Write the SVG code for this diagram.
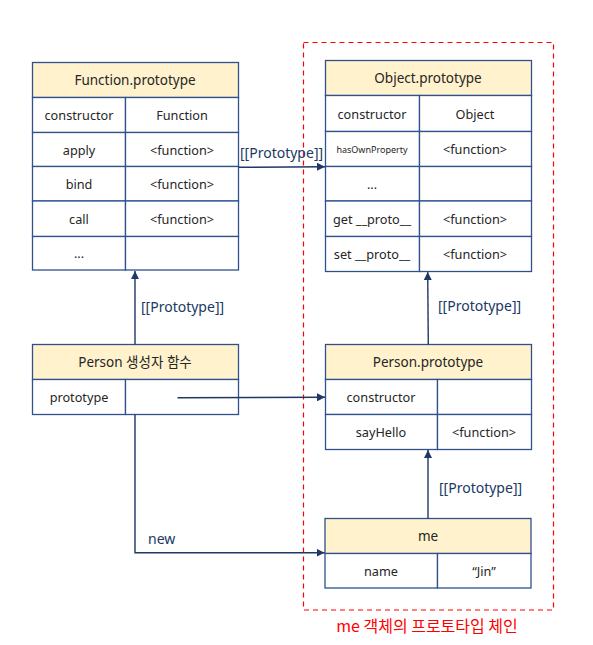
<svg xmlns="http://www.w3.org/2000/svg" width="593" height="645" viewBox="0 0 593 645">
<defs>
<marker id="arr" viewBox="0 0 10 10" refX="10" refY="5" markerWidth="8" markerHeight="8" markerUnits="userSpaceOnUse" orient="auto">
<path d="M0,0 L10,5 L0,10 z" fill="#1F3864"/>
</marker>
<style>
.cell{fill:#FFFFFF;stroke:#2F528F;stroke-width:1.3}
.head{fill:#FFF2CC;stroke:#2F528F;stroke-width:1.3}
.t{font-family:"Noto Sans","Noto Sans CJK KR",sans-serif;font-size:12.7px;font-weight:normal;fill:#262626;text-anchor:middle;dominant-baseline:central}
.th{font-size:13.5px}
.small{font-size:9px}
.conn{fill:none;stroke:#1F3864;stroke-width:1.4;marker-end:url(#arr)}
.lbl{font-family:"Noto Sans","Noto Sans CJK KR",sans-serif;font-size:14px;fill:#203864;dominant-baseline:central}
.frame{fill:none;stroke:#FF0000;stroke-width:1.2;stroke-dasharray:5,4}
.cap{font-family:"Noto Sans CJK KR","Noto Sans",sans-serif;font-size:16px;fill:#FF0000;text-anchor:middle;dominant-baseline:central}
</style>
</defs>
<rect class="frame" x="303.5" y="42.5" width="250" height="567.5"/>
<g id="function-prototype">
<rect class="head" x="32.5" y="62.5" width="206" height="35"/>
<rect class="cell" x="32.5" y="97.5" width="93" height="35"/>
<rect class="cell" x="125.5" y="97.5" width="113" height="35"/>
<rect class="cell" x="32.5" y="132.5" width="93" height="34"/>
<rect class="cell" x="125.5" y="132.5" width="113" height="34"/>
<rect class="cell" x="32.5" y="166.5" width="93" height="34.5"/>
<rect class="cell" x="125.5" y="166.5" width="113" height="34.5"/>
<rect class="cell" x="32.5" y="201" width="93" height="35.5"/>
<rect class="cell" x="125.5" y="201" width="113" height="35.5"/>
<rect class="cell" x="32.5" y="236.5" width="93" height="33.5"/>
<rect class="cell" x="125.5" y="236.5" width="113" height="33.5"/>
<text class="t th" x="135" y="80">Function.prototype</text>
<text class="t" x="79" y="115">constructor</text>
<text class="t" x="182" y="115">Function</text>
<text class="t" x="79" y="149.5">apply</text>
<text class="t" x="182" y="149.5">&lt;function&gt;</text>
<text class="t" x="79" y="183.5">bind</text>
<text class="t" x="182" y="183.5">&lt;function&gt;</text>
<text class="t" x="79" y="218.5">call</text>
<text class="t" x="182" y="218.5">&lt;function&gt;</text>
<text class="t" x="79" y="253">...</text>
</g>
<g id="object-prototype">
<rect class="head" x="325.5" y="60.5" width="206" height="35"/>
<rect class="cell" x="325.5" y="95.5" width="94" height="36"/>
<rect class="cell" x="419.5" y="95.5" width="112" height="36"/>
<rect class="cell" x="325.5" y="131.5" width="94" height="35"/>
<rect class="cell" x="419.5" y="131.5" width="112" height="35"/>
<rect class="cell" x="325.5" y="166.5" width="94" height="34.5"/>
<rect class="cell" x="419.5" y="166.5" width="112" height="34.5"/>
<rect class="cell" x="325.5" y="201" width="94" height="35.5"/>
<rect class="cell" x="419.5" y="201" width="112" height="35.5"/>
<rect class="cell" x="325.5" y="236.5" width="94" height="35"/>
<rect class="cell" x="419.5" y="236.5" width="112" height="35"/>
<text class="t th" x="428" y="78">Object.prototype</text>
<text class="t" x="372" y="113.5">constructor</text>
<text class="t" x="475" y="113.5">Object</text>
<text class="t small" x="372" y="149">hasOwnProperty</text>
<text class="t" x="475" y="148.5">&lt;function&gt;</text>
<text class="t" x="372" y="184">...</text>
<text class="t" x="372" y="218.5">get __proto__</text>
<text class="t" x="475" y="218.5">&lt;function&gt;</text>
<text class="t" x="372" y="254">set __proto__</text>
<text class="t" x="475" y="254">&lt;function&gt;</text>
</g>
<g id="person-constructor">
<rect class="head" x="32.5" y="344.5" width="206" height="35"/>
<rect class="cell" x="32.5" y="379.5" width="93" height="35"/>
<rect class="cell" x="125.5" y="379.5" width="113" height="35"/>
<text class="t th" x="135" y="362">Person 생성자 함수</text>
<text class="t" x="79" y="397">prototype</text>
</g>
<g id="person-prototype">
<rect class="head" x="325.5" y="344.5" width="206" height="35"/>
<rect class="cell" x="325.5" y="379.5" width="112" height="35"/>
<rect class="cell" x="437.5" y="379.5" width="94" height="35"/>
<rect class="cell" x="325.5" y="414.5" width="112" height="35"/>
<rect class="cell" x="437.5" y="414.5" width="94" height="35"/>
<text class="t th" x="428" y="362">Person.prototype</text>
<text class="t" x="381" y="397">constructor</text>
<text class="t" x="381" y="432">sayHello</text>
<text class="t" x="484" y="432">&lt;function&gt;</text>
</g>
<g id="me">
<rect class="head" x="325" y="518.5" width="206" height="35"/>
<rect class="cell" x="325" y="553.5" width="112.5" height="34.5"/>
<rect class="cell" x="437.5" y="553.5" width="93.5" height="34.5"/>
<text class="t th" x="428" y="536">me</text>
<text class="t" x="381" y="571">name</text>
<text class="t" x="484" y="571">“Jin”</text>
</g>
<g id="connectors">
<path class="conn" d="M238.5,167.3 L325,166.7"/>
<path class="conn" d="M135,344.5 L135,271"/>
<path class="conn" d="M428.3,344.5 L427.7,272"/>
<path class="conn" d="M428,518.5 L428,450"/>
<path class="conn" d="M177.5,397.7 L325,397.3"/>
<path class="conn" d="M135,414.5 L135,552.7 L324.5,552.7"/>
</g>
<g id="labels">
<text class="lbl" x="240" y="152">[[Prototype]]</text>
<text class="lbl" x="141" y="306">[[Prototype]]</text>
<text class="lbl" x="438" y="305">[[Prototype]]</text>
<text class="lbl" x="439" y="487">[[Prototype]]</text>
<text class="lbl" x="148" y="538">new</text>
<text class="cap" x="427" y="625">me 객체의 프로토타입 체인</text>
</g>
</svg>
